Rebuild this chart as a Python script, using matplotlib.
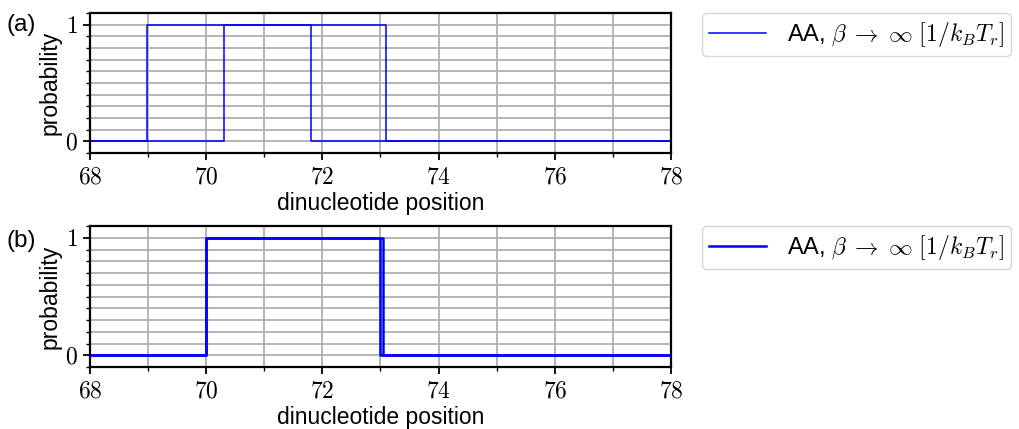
import matplotlib
matplotlib.use('Agg')
import matplotlib.pyplot as plt
from matplotlib.ticker import MultipleLocator, FuncFormatter

# panel (a): two overlapping square pulses
a_x1 = [68, 70.31, 70.31, 73.09, 73.09, 78]
a_y1 = [0, 0, 1, 1, 0, 0]
a_x2 = [68, 68.98, 68.98, 71.80, 71.80, 78]
a_y2 = [0, 0, 1, 1, 0, 0]

# panel (b): two nearly identical pulses
b_x1 = [68, 70.0, 70.0, 73.0, 73.0, 78]
b_y1 = [0, 0, 1, 1, 0, 0]
b_x2 = [68, 70.0, 70.0, 73.05, 73.05, 78]
b_y2 = [0, 0, 1, 1, 0, 0]

label = r'AA, $\beta \;\rightarrow\; \infty\ [1/k_BT_r]$'

plt.rcParams['mathtext.fontset'] = 'cm'
plt.rcParams['font.family'] = ['Liberation Sans', 'DejaVu Sans']

fig = plt.figure(figsize=(10.2, 4.29), dpi=100)
ax_a = fig.add_axes([90/1020, 1 - 153/429, 581/1020, 140/429])
ax_b = fig.add_axes([90/1020, 1 - 367/429, 581/1020, 141/429])


def style(ax, curves, lw):
    for xs, ys in curves:
        ax.plot(xs, ys, color='b', lw=lw, label=label)
    ax.set_xlim(68, 78)
    ax.set_ylim(-0.1, 1.1)
    ax.xaxis.set_major_locator(MultipleLocator(2))
    ax.xaxis.set_minor_locator(MultipleLocator(1))
    ax.yaxis.set_major_locator(MultipleLocator(1))
    ax.yaxis.set_minor_locator(MultipleLocator(0.1))
    fmt = FuncFormatter(lambda v, p: r'$%g$' % v)
    ax.xaxis.set_major_formatter(fmt)
    ax.yaxis.set_major_formatter(fmt)
    ax.grid(which='both', color='#b0b0b0', lw=1.3)
    ax.set_axisbelow(True)
    ax.tick_params(which='major', labelsize=17, width=1.3, length=5)
    ax.tick_params(which='minor', width=1.0, length=3)
    ax.tick_params(axis='x', pad=5)
    for s in ax.spines.values():
        s.set_linewidth(1.6)
    ax.set_xlabel('dinucleotide position', fontsize=16.5, labelpad=2)
    ax.set_ylabel('probability', fontsize=16.5, labelpad=3)
    h, l = ax.get_legend_handles_labels()
    leg = ax.legend(h[:1], l[:1], loc='upper left', bbox_to_anchor=(1.053, 1.0),
                    borderaxespad=0, fontsize=17, handlelength=2.4,
                    handletextpad=0.9, borderpad=0.3)
    leg.get_frame().set_edgecolor('#cccccc')


style(ax_a, [(a_x1, a_y1), (a_x2, a_y2)], 1.1)
style(ax_b, [(b_x1, b_y1), (b_x2, b_y2)], 1.8)

fig.text(7/1020, 1 - 31/429, '(a)', fontsize=17.5)
fig.text(7/1020, 1 - 247/429, '(b)', fontsize=17.5)

fig.savefig('out.png', dpi=100)
